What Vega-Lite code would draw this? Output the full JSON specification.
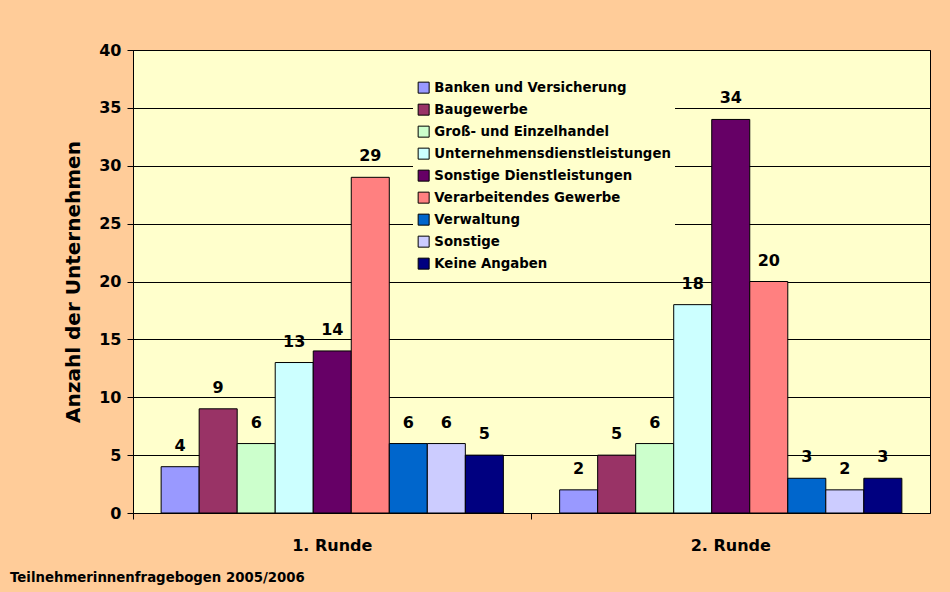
{
  "$schema": "https://vega.github.io/schema/vega-lite/v6.json",
  "width": 797,
  "height": 463,
  "autosize": {"type": "none"},
  "padding": {"left": 133, "top": 50, "right": 20, "bottom": 79},
  "background": "#FFCC99",
  "config": {
    "font": "DejaVu Sans",
    "view": {"fill": "#FFFFCC", "stroke": "#000000", "strokeWidth": 1}
  },
  "title": {
    "text": "Teilnehmerinnenfragebogen 2005/2006",
    "orient": "bottom",
    "anchor": "start",
    "frame": "group",
    "dx": -123,
    "offset": 18,
    "fontSize": 13.3,
    "fontWeight": "bold",
    "color": "#000000",
    "font": "DejaVu Sans"
  },
  "data": {
    "values": [
      {"runde": "1. Runde", "branche": "Banken und Versicherung", "anzahl": 4},
      {"runde": "1. Runde", "branche": "Baugewerbe", "anzahl": 9},
      {"runde": "1. Runde", "branche": "Groß- und Einzelhandel", "anzahl": 6},
      {"runde": "1. Runde", "branche": "Unternehmensdienstleistungen", "anzahl": 13},
      {"runde": "1. Runde", "branche": "Sonstige Dienstleistungen", "anzahl": 14},
      {"runde": "1. Runde", "branche": "Verarbeitendes Gewerbe", "anzahl": 29},
      {"runde": "1. Runde", "branche": "Verwaltung", "anzahl": 6},
      {"runde": "1. Runde", "branche": "Sonstige", "anzahl": 6},
      {"runde": "1. Runde", "branche": "Keine Angaben", "anzahl": 5},
      {"runde": "2. Runde", "branche": "Banken und Versicherung", "anzahl": 2},
      {"runde": "2. Runde", "branche": "Baugewerbe", "anzahl": 5},
      {"runde": "2. Runde", "branche": "Groß- und Einzelhandel", "anzahl": 6},
      {"runde": "2. Runde", "branche": "Unternehmensdienstleistungen", "anzahl": 18},
      {"runde": "2. Runde", "branche": "Sonstige Dienstleistungen", "anzahl": 34},
      {"runde": "2. Runde", "branche": "Verarbeitendes Gewerbe", "anzahl": 20},
      {"runde": "2. Runde", "branche": "Verwaltung", "anzahl": 3},
      {"runde": "2. Runde", "branche": "Sonstige", "anzahl": 2},
      {"runde": "2. Runde", "branche": "Keine Angaben", "anzahl": 3}
    ]
  },
  "encoding": {
    "x": {
      "field": "runde",
      "type": "nominal",
      "scale": {"paddingInner": 0, "paddingOuter": 0},
      "axis": {
        "title": null,
        "labelAngle": 0,
        "labelFontSize": 16,
        "labelFontWeight": "bold",
        "labelColor": "#000000",
        "labelPadding": 18,
        "domain": false,
        "ticks": true,
        "tickColor": "#000000",
        "tickSize": 6,
        "bandPosition": 0
      }
    },
    "xOffset": {
      "field": "branche",
      "type": "nominal",
      "sort": ["Banken und Versicherung", "Baugewerbe", "Groß- und Einzelhandel", "Unternehmensdienstleistungen", "Sonstige Dienstleistungen", "Verarbeitendes Gewerbe", "Verwaltung", "Sonstige", "Keine Angaben"],
      "scale": {"paddingInner": 0, "paddingOuter": 0.74}
    },
    "y": {
      "field": "anzahl",
      "type": "quantitative",
      "scale": {"domain": [0, 40]},
      "axis": {
        "title": "Anzahl der Unternehmen",
        "titleFontSize": 20,
        "titleFontWeight": "bold",
        "titleColor": "#000000",
        "titlePadding": 15,
        "values": [0, 5, 10, 15, 20, 25, 30, 35, 40],
        "labelFontSize": 16,
        "labelFontWeight": "bold",
        "labelColor": "#000000",
        "labelPadding": 6,
        "tickColor": "#000000",
        "tickSize": 6,
        "domainColor": "#000000",
        "grid": true,
        "gridColor": "#000000",
        "gridOpacity": 1,
        "gridWidth": 1
      }
    }
  },
  "layer": [
    {
      "mark": {"type": "bar", "stroke": "#000000", "strokeWidth": 1},
      "encoding": {
        "color": {
          "field": "branche",
          "type": "nominal",
          "sort": ["Banken und Versicherung", "Baugewerbe", "Groß- und Einzelhandel", "Unternehmensdienstleistungen", "Sonstige Dienstleistungen", "Verarbeitendes Gewerbe", "Verwaltung", "Sonstige", "Keine Angaben"],
          "scale": {
            "domain": ["Banken und Versicherung", "Baugewerbe", "Groß- und Einzelhandel", "Unternehmensdienstleistungen", "Sonstige Dienstleistungen", "Verarbeitendes Gewerbe", "Verwaltung", "Sonstige", "Keine Angaben"],
            "range": ["#9999FF", "#993366", "#CCFFCC", "#CCFFFF", "#660066", "#FF8080", "#0066CC", "#CCCCFF", "#000080"]
          },
          "legend": {
            "title": null,
            "orient": "none",
            "legendX": 280,
            "legendY": 27,
            "fillColor": "#FFFFCC",
            "padding": 4,
            "symbolType": "square",
            "symbolSize": 121,
            "symbolStrokeColor": "#000000",
            "symbolStrokeWidth": 1,
            "symbolOpacity": 1,
            "labelFontSize": 13.3,
            "labelFontWeight": "bold",
            "labelColor": "#000000",
            "labelOffset": 4,
            "rowPadding": 6,
            "labelLimit": 400
          }
        }
      }
    },
    {
      "mark": {"type": "text", "dy": -13, "baseline": "bottom", "fontSize": 16, "fontWeight": "bold", "color": "#000000"},
      "encoding": {
        "text": {"field": "anzahl", "type": "quantitative"}
      }
    }
  ]
}
